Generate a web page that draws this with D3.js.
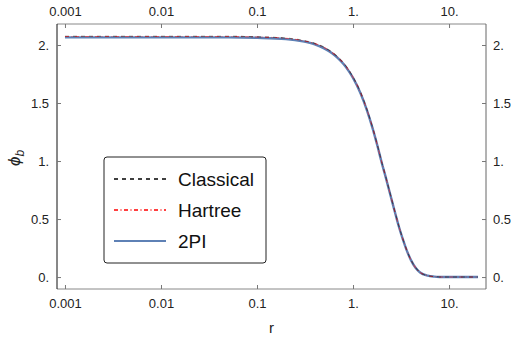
<!DOCTYPE html>
<html><head><meta charset="utf-8">
<script src="https://cdn.jsdelivr.net/npm/d3@7"></script>
<style>body{margin:0;background:#fff}svg{display:block}text{font-family:"Liberation Sans",Arial,sans-serif}</style>
</head><body>
<svg id="c" width="512" height="338"></svg>
<script>
const rValues = [0.001,0.003,0.01,0.03,0.05,0.1,0.2,0.3,0.4,0.5,0.6,0.7,0.8,0.9,1.0,1.2,1.4,1.6,1.8,2.0,2.2,2.4,2.6,2.8,3.0,3.3,3.6,4.0,4.5,5,6,7,8,10,15,20];
const classical = [2.075,2.075,2.075,2.075,2.075,2.071,2.060,2.040,2.014,1.980,1.940,1.894,1.843,1.786,1.724,1.590,1.442,1.288,1.133,0.985,0.860,0.740,0.630,0.530,0.440,0.330,0.240,0.150,0.080,0.040,0.012,0.004,0.001,0,0,0];
const hartree   = [2.073,2.073,2.073,2.073,2.073,2.069,2.058,2.038,2.012,1.978,1.938,1.892,1.841,1.784,1.722,1.588,1.440,1.286,1.131,0.983,0.858,0.738,0.628,0.528,0.438,0.329,0.239,0.149,0.079,0.040,0.012,0.004,0.001,0,0,0];
const twoPI     = [2.066,2.066,2.066,2.066,2.066,2.062,2.051,2.031,2.005,1.971,1.931,1.885,1.834,1.777,1.716,1.582,1.435,1.281,1.127,0.979,0.855,0.735,0.626,0.526,0.436,0.327,0.237,0.148,0.078,0.039,0.012,0.004,0.001,0,0,0];
const seriesNames = ["Classical","Hartree","2PI"];
const xTicks = [0.001,0.01,0.1,1,10];
const xTickLabels = ["0.001","0.01","0.1","1.","10."];
const yTicks = [0,0.5,1,1.5,2];
const yTickLabels = ["0.","0.5","1.","1.5","2."];

const svg = d3.select("#c");
const L=57,R=486,T=24,B=289;
const x = d3.scaleLog().domain([Math.pow(10,-3.083),Math.pow(10,1.385)]).range([L,R]);
const y = d3.scaleLinear().domain([-0.103,2.181]).range([B,T]);

const styles = {
  "2PI":{stroke:"#5E81B5",width:2.4,dash:null},
  "Hartree":{stroke:"#ff0000",width:1.1,dash:"4,2.5,1,2.5"},
  "Classical":{stroke:"#000",width:1.1,dash:"4,4"}
};
const data = {"Classical":classical,"Hartree":hartree,"2PI":twoPI};

const line = d3.line().x(d=>x(d[0])).y(d=>y(d[1])).curve(d3.curveMonotoneX);
const g = svg.append("g");
["2PI","Classical","Hartree"].forEach(n=>{
  const s=styles[n];
  g.append("path").datum(rValues.map((r,i)=>[r,data[n][i]]))
   .attr("d",line).attr("fill","none").attr("stroke",s.stroke)
   .attr("stroke-width",s.width).attr("stroke-dasharray",s.dash)
   .attr("opacity", n==="2PI"?1:0.5);
});

// frame
const fr = svg.append("g");
fr.append("line").attr("x1",L).attr("x2",R).attr("y1",T).attr("y2",T).attr("stroke","#888");
fr.append("line").attr("x1",L).attr("x2",R).attr("y1",B).attr("y2",B).attr("stroke","#888");
fr.append("line").attr("x1",R).attr("x2",R).attr("y1",T).attr("y2",B).attr("stroke","#666");
fr.append("line").attr("x1",L).attr("x2",L).attr("y1",T).attr("y2",B).attr("stroke","#111");

const ax = (axis,pad)=>axis.tickSizeInner(-4).tickSizeOuter(0).tickPadding(pad);
const axB = svg.append("g").attr("transform",`translate(0,${B})`)
  .call(ax(d3.axisBottom(x).tickValues(xTicks).tickFormat((d,i)=>xTickLabels[i]),10));
const axT = svg.append("g").attr("transform",`translate(0,${T})`)
  .call(ax(d3.axisTop(x).tickValues(xTicks).tickFormat((d,i)=>xTickLabels[i]),8));
const axL = svg.append("g").attr("transform",`translate(${L},0)`)
  .call(ax(d3.axisLeft(y).tickValues(yTicks).tickFormat((d,i)=>yTickLabels[i]),8));
const axR = svg.append("g").attr("transform",`translate(${R},0)`)
  .call(ax(d3.axisRight(y).tickValues(yTicks).tickFormat((d,i)=>yTickLabels[i]),7));
[axB,axT,axL,axR].forEach(a=>{
  a.select(".domain").remove();
  a.selectAll(".tick line").attr("stroke","#777");
  a.selectAll("text").attr("font-size",13).attr("fill","#222").attr("font-family","Liberation Sans, Arial, sans-serif");
});

svg.append("text").attr("x",(L+R)/2).attr("y",333).attr("text-anchor","middle")
  .attr("font-size",15).attr("fill","#222").text("r");
const yl = svg.append("text").attr("transform","translate(20,158) rotate(-90)")
  .attr("text-anchor","middle").attr("font-size",17).attr("fill","#222");
yl.append("tspan").attr("font-style","italic").text("ϕ");
yl.append("tspan").attr("font-style","italic").attr("font-size",12).attr("dy",4).text("b");

// legend
const lg = svg.append("g");
lg.append("rect").attr("x",104).attr("y",157).attr("width",162).attr("height",106)
  .attr("rx",3).attr("fill","#fff").attr("stroke","#222").attr("stroke-width",1);
seriesNames.forEach((n,i)=>{
  const yy = 179 + i*31;
  const s = styles[n];
  lg.append("line").attr("x1",114).attr("x2",166).attr("y1",yy).attr("y2",yy)
    .attr("stroke",s.stroke).attr("stroke-width",n==="2PI"?2:1.6).attr("stroke-dasharray",s.dash);
  lg.append("text").attr("x",178).attr("y",yy+7).attr("font-size",19).attr("fill","#111").text(n);
});
</script>
</body></html>
